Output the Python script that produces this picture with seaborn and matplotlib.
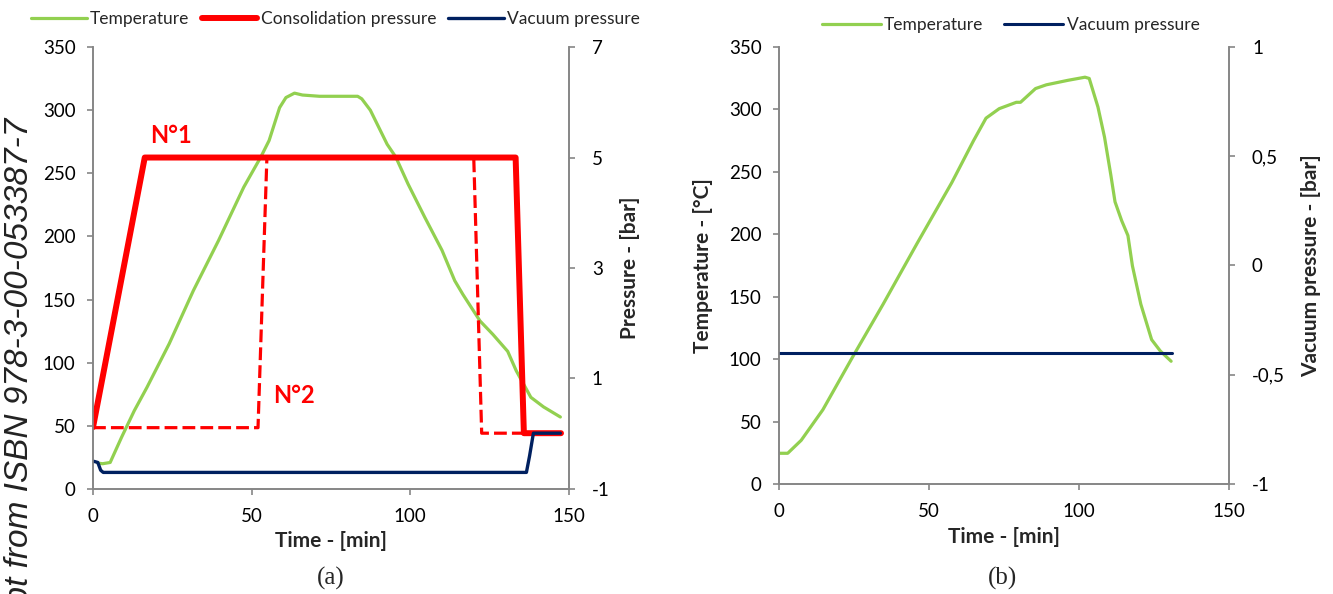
import matplotlib
matplotlib.use('Agg')
import matplotlib.pyplot as plt
import seaborn as sns
from matplotlib.ticker import FuncFormatter

# (a) temperature [°C] vs time [min]
temp_a_t = [1.5, 3, 5.4, 9, 13, 17, 24, 31.6, 39.6, 47.5, 52.9, 55.5, 58.8, 60.8, 63.5,
            66, 71.4, 83.4, 84.7, 87.4, 92.7, 95.4, 99.3, 104.6, 110, 114, 116.6, 122,
            126, 130.7, 133.4, 138, 142, 147.3]
temp_a = [20.5, 20, 21, 41, 62, 80.5, 115, 157, 197, 239, 263, 276, 302, 310, 313.5,
          312, 311, 311, 309, 300, 273, 263, 241.5, 215, 189, 165, 154, 133,
          122.5, 109, 93.6, 72.6, 65, 57]

# (a) consolidation pressure N°1 [bar]
cons1_t = [0, 16.3, 133.2, 135.8, 147.5]
cons1_p = [0.12, 5.0, 5.0, 0.01, 0.01]

# (a) consolidation pressure N°2 (dashed) [bar]
cons2_t = [0, 52.0, 54.8, 120.0, 122.5, 147.5]
cons2_p = [0.11, 0.11, 5.0, 5.0, 0.01, 0.01]

# (a) vacuum pressure [bar]
vac_a_t = [0.3, 1.5, 2.4, 3.2, 136.6, 137.6, 138.8, 147.3]
vac_a_p = [-0.5, -0.52, -0.66, -0.7, -0.7, -0.4, 0.01, 0.01]

# (b) temperature [°C]
temp_b_t = [0, 2.9, 7.4, 14.6, 24.6, 34.7, 46.1, 57.6, 64.8, 69, 73.4, 79.1, 80.5,
            85.5, 89.1, 96.3, 102, 103.4, 106.3, 108.5, 110.6, 112, 114.2, 116.3,
            117.8, 120.6, 124.2, 127.1, 130.7]
temp_b = [24.6, 24.6, 35, 59.4, 102, 144, 193, 241.4, 274.8, 293, 300.6, 305.7, 305.7,
          316.7, 319.7, 323.3, 325.8, 324.8, 302, 277.8, 247.5, 226, 211, 199,
          174.7, 144, 115.6, 106.5, 98.3]

# (b) vacuum pressure [bar]
vac_b_t = [0, 131]
vac_b_p = [-0.4, -0.4]

GREEN = '#92D050'
RED = '#FF0000'
NAVY = '#002060'
GREY = '#868686'

sns.set_theme(style='white')
plt.rcParams['font.family'] = ['Lato', 'DejaVu Sans']
plt.rcParams['axes.unicode_minus'] = False

fig = plt.figure(figsize=(13.33, 5.94), dpi=100)
ax_a = fig.add_axes([0.0698, 0.1768, 0.357, 0.744])
ax_a2 = ax_a.twinx()
ax_b = fig.add_axes([0.5844, 0.1852, 0.3376, 0.7357])
ax_b2 = ax_b.twinx()


def style_axes(ax, ax2):
    for a in (ax, ax2):
        a.spines['top'].set_visible(False)
        for s in ('left', 'right', 'bottom'):
            a.spines[s].set_color(GREY)
            a.spines[s].set_linewidth(1.2)
        a.tick_params(axis='both', which='major', direction='out', length=4.5, width=1.2,
                      color=GREY, labelsize=13.5, labelcolor='black', pad=8)
    ax.tick_params(axis='y', left=True, right=False)
    ax.tick_params(axis='x', bottom=True, pad=9)
    ax2.tick_params(axis='y', right=True, left=False, pad=12)
    ax.grid(False)
    ax2.grid(False)


LBL = dict(fontsize=15, fontweight='bold')

# ---- panel (a)
sns.lineplot(x=temp_a_t, y=temp_a, ax=ax_a, color=GREEN, lw=2.3, estimator=None, sort=False,
             label='Temperature')
sns.lineplot(x=cons2_t, y=cons2_p, ax=ax_a2, color=RED, lw=2.3, estimator=None, sort=False)
ax_a2.get_lines()[-1].set_dashes((4, 1.6))
sns.lineplot(x=cons1_t, y=cons1_p, ax=ax_a2, color=RED, lw=4.3, estimator=None, sort=False,
             label='Consolidation pressure', solid_capstyle='round', solid_joinstyle='round')
sns.lineplot(x=vac_a_t, y=vac_a_p, ax=ax_a2, color=NAVY, lw=2.4, estimator=None, sort=False,
             label='Vacuum pressure', solid_capstyle='round')

ax_a.set_xlim(0, 150)
ax_a.set_ylim(0, 350)
ax_a2.set_ylim(-1, 7)
ax_a.set_xticks([0, 50, 100, 150])
ax_a.set_yticks(range(0, 351, 50))
ax_a2.set_yticks([-1, 1, 3, 5, 7])
style_axes(ax_a, ax_a2)
ax_a.set_xlabel('Time - [min]', **LBL)
ax_a.xaxis.set_label_coords(0.50, -0.095)
ax_a.set_ylabel('')
ax_a2.set_ylabel('Pressure - [bar]', **LBL)
ax_a2.yaxis.set_label_coords(1.107, 0.5)

ax_a.text(24.7, 280, 'N°1', color=RED, fontsize=17, fontweight='bold', ha='center', va='center')
ax_a.text(63.4, 74, 'N°2', color=RED, fontsize=17, fontweight='bold', ha='center', va='center')

# ---- panel (b)
sns.lineplot(x=temp_b_t, y=temp_b, ax=ax_b, color=GREEN, lw=2.3, estimator=None, sort=False,
             label='Temperature')
sns.lineplot(x=vac_b_t, y=vac_b_p, ax=ax_b2, color=NAVY, lw=2.2, estimator=None, sort=False,
             label='Vacuum pressure')

ax_b.set_xlim(0, 150)
ax_b.set_ylim(0, 350)
ax_b2.set_ylim(-1, 1)
ax_b.set_xticks([0, 50, 100, 150])
ax_b.set_yticks(range(0, 351, 50))
ax_b2.set_yticks([-1, -0.5, 0, 0.5, 1])
ax_b2.yaxis.set_major_formatter(FuncFormatter(lambda v, _: ('%g' % v).replace('.', ',')))
style_axes(ax_b, ax_b2)
ax_b.set_xlabel('Time - [min]', **LBL)
ax_b.xaxis.set_label_coords(0.50, -0.098)
ax_b.set_ylabel('Temperature - [°C]', **LBL)
ax_b.yaxis.set_label_coords(-0.147, 0.5)
ax_b2.set_ylabel('Vacuum pressure - [bar]', **LBL)
ax_b2.yaxis.set_label_coords(1.16, 0.5)

# legends
for a in (ax_a, ax_a2, ax_b, ax_b2):
    if a.get_legend() is not None:
        a.get_legend().remove()

h1, l1 = ax_a.get_legend_handles_labels()
h2, l2 = ax_a2.get_legend_handles_labels()
ax_a2.legend(h1 + h2, l1 + l2, loc='center', bbox_to_anchor=(0.51, 1.064), ncol=3,
             frameon=False, fontsize=12.5, handlelength=3.2, handletextpad=0.2,
             columnspacing=0.7)

h1, l1 = ax_b.get_legend_handles_labels()
h2, l2 = ax_b2.get_legend_handles_labels()
ax_b2.legend(h1 + h2, l1 + l2, loc='center', bbox_to_anchor=(0.515, 1.05), ncol=2,
             frameon=False, fontsize=12.5, handlelength=3.4, handletextpad=0.2,
             columnspacing=1.2)

# sub-captions
fig.text(0.248, 0.027, '(a)', fontsize=18, family='Liberation Serif', ha='center', va='center')
fig.text(0.752, 0.027, '(b)', fontsize=18, family='Liberation Serif', ha='center', va='center')

# watermark on the left edge (partly cut off, as in the source image)
fig.text(0.015, 1 - 118 / 594, 'Excerpt from ISBN 978-3-00-053387-7', rotation=90,
         rotation_mode='anchor', ha='right', va='center', fontsize=24, style='italic',
         family='Liberation Sans', color='#222222')

fig.savefig('out.png', dpi=100)
